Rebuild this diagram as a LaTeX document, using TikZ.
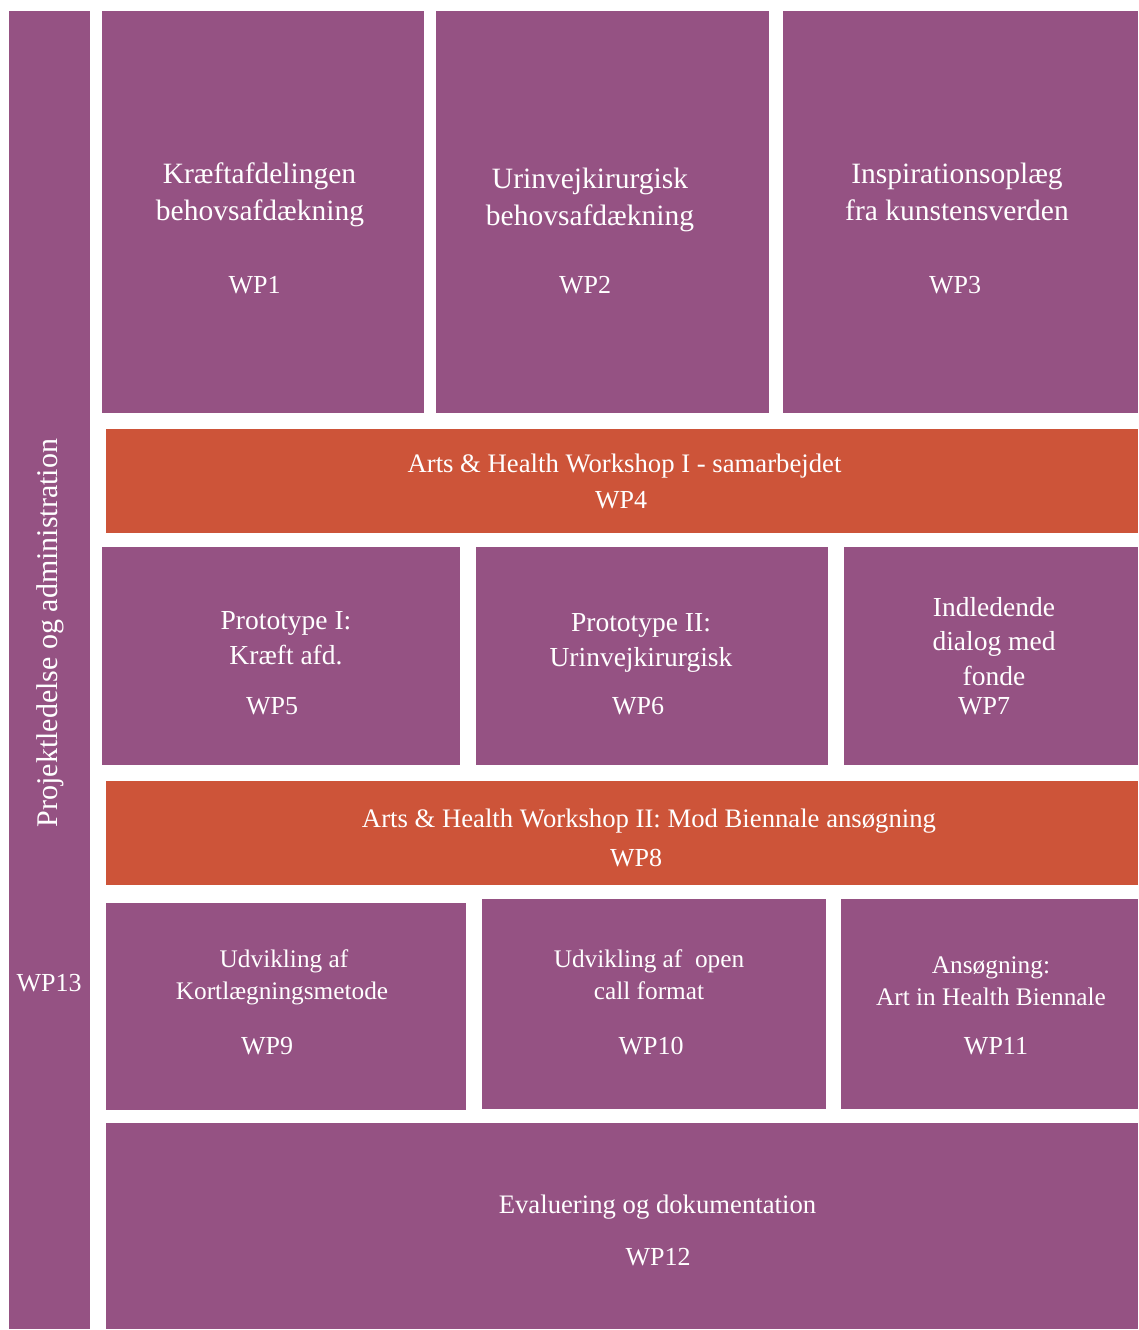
\documentclass[tikz,border=0pt]{standalone}
\usepackage{fontspec}
\setmainfont{Liberation Serif}
\definecolor{wppurple}{RGB}{149,82,131}
\definecolor{wporange}{RGB}{205,84,57}
\tikzset{
  wpbox/.style={fill=wppurple, draw=none, inner sep=0pt, anchor=north west},
  wsbox/.style={fill=wporange, draw=none, inner sep=0pt, anchor=north west},
  lbl/.style={text=white, inner sep=0pt, anchor=base},
  fA/.style={font=\fontsize{29.5}{34}\selectfont},
  fB/.style={font=\fontsize{26.7}{32}\selectfont},
  fC/.style={font=\fontsize{27.5}{32}\selectfont},
  fD/.style={font=\fontsize{25.3}{30}\selectfont},
  fW/.style={font=\fontsize{26}{30}\selectfont},
}
\begin{document}
\begin{tikzpicture}[x=1pt,y=-1pt]
\useasboundingbox (0,0) rectangle (1138,1330);
% boxes
\node[wpbox, minimum width=81pt, minimum height=1318pt] (wp13) at (9,11) {};
\node[wpbox, minimum width=322pt, minimum height=402pt] (wp1) at (102,11) {};
\node[wpbox, minimum width=333pt, minimum height=402pt] (wp2) at (436,11) {};
\node[wpbox, minimum width=355pt, minimum height=402pt] (wp3) at (783,11) {};
\node[wsbox, minimum width=1032pt, minimum height=104pt] (wp4) at (106,429) {};
\node[wpbox, minimum width=358pt, minimum height=218pt] (wp5) at (102,547) {};
\node[wpbox, minimum width=352pt, minimum height=218pt] (wp6) at (476,547) {};
\node[wpbox, minimum width=294pt, minimum height=218pt] (wp7) at (844,547) {};
\node[wsbox, minimum width=1032pt, minimum height=104pt] (wp8) at (106,781) {};
\node[wpbox, minimum width=360pt, minimum height=207pt] (wp9) at (106,903) {};
\node[wpbox, minimum width=344pt, minimum height=210pt] (wp10) at (482,899) {};
\node[wpbox, minimum width=297pt, minimum height=210pt] (wp11) at (841,899) {};
\node[wpbox, minimum width=1032pt, minimum height=206pt] (wp12) at (106,1123) {};
% texts WP1-3
\node[lbl,fA] (t1a) at (259.5,183) {Kræftafdelingen};
\node[lbl,fA] (t1b) at (260,220) {behovsafdækning};
\node[lbl,fW] (t1c) at (254.5,293) {WP1};
\node[lbl,fA] (t2a) at (590,188) {Urinvejkirurgisk};
\node[lbl,fA] (t2b) at (590,225) {behovsafdækning};
\node[lbl,fW] (t2c) at (585,293) {WP2};
\node[lbl,fA] (t3a) at (957,183) {Inspirationsoplæg};
\node[lbl,fA] (t3b) at (957,220) {fra kunstensverden};
\node[lbl,fW] (t3c) at (955,293) {WP3};
% WP4
\node[lbl,fB] (t4a) at (624.5,472) {Arts \& Health Workshop I - samarbejdet};
\node[lbl,fW] (t4b) at (621,508) {WP4};
% WP5-7
\node[lbl,fC] (t5a) at (286,629) {Prototype I:};
\node[lbl,fC] (t5b) at (286,664) {Kræft afd.};
\node[lbl,fW] (t5c) at (272,714) {WP5};
\node[lbl,fC] (t6a) at (641,631) {Prototype II:};
\node[lbl,fC] (t6b) at (641,666) {Urinvejkirurgisk};
\node[lbl,fW] (t6c) at (638,714) {WP6};
\node[lbl,fC] (t7a) at (994,616) {Indledende};
\node[lbl,fC] (t7b) at (994,650) {dialog med};
\node[lbl,fC] (t7c) at (994,685) {fonde};
\node[lbl,fW] (t7d) at (984,714) {WP7};
% WP8
\node[lbl,fB] (t8a) at (649,827) {Arts \& Health Workshop II: Mod Biennale ansøgning};
\node[lbl,fW] (t8b) at (636,866) {WP8};
% WP9-11
\node[lbl,fD] (t9a) at (284,967) {Udvikling af};
\node[lbl,fD] (t9b) at (282,999) {Kortlægningsmetode};
\node[lbl,fW] (t9c) at (267,1054) {WP9};
\node[lbl,fD] (t10a) at (649,967) {Udvikling af~ open};
\node[lbl,fD] (t10b) at (649,999) {call format};
\node[lbl,fW] (t10c) at (651,1054) {WP10};
\node[lbl,fD] (t11a) at (991,973) {Ansøgning:};
\node[lbl,fD] (t11b) at (991,1005) {Art in Health Biennale};
\node[lbl,fW] (t11c) at (996,1054) {WP11};
% WP12
\node[lbl,fB] (t12a) at (657.5,1213) {Evaluering og dokumentation};
\node[lbl,fW] (t12b) at (658,1265) {WP12};
% WP13
\node[lbl,fW] (t13b) at (49,991) {WP13};
\node[text=white, inner sep=0pt, rotate=90, font=\fontsize{30}{34}\selectfont] (t13a) at (50,633) {Projektledelse og administration};
\end{tikzpicture}
\end{document}
